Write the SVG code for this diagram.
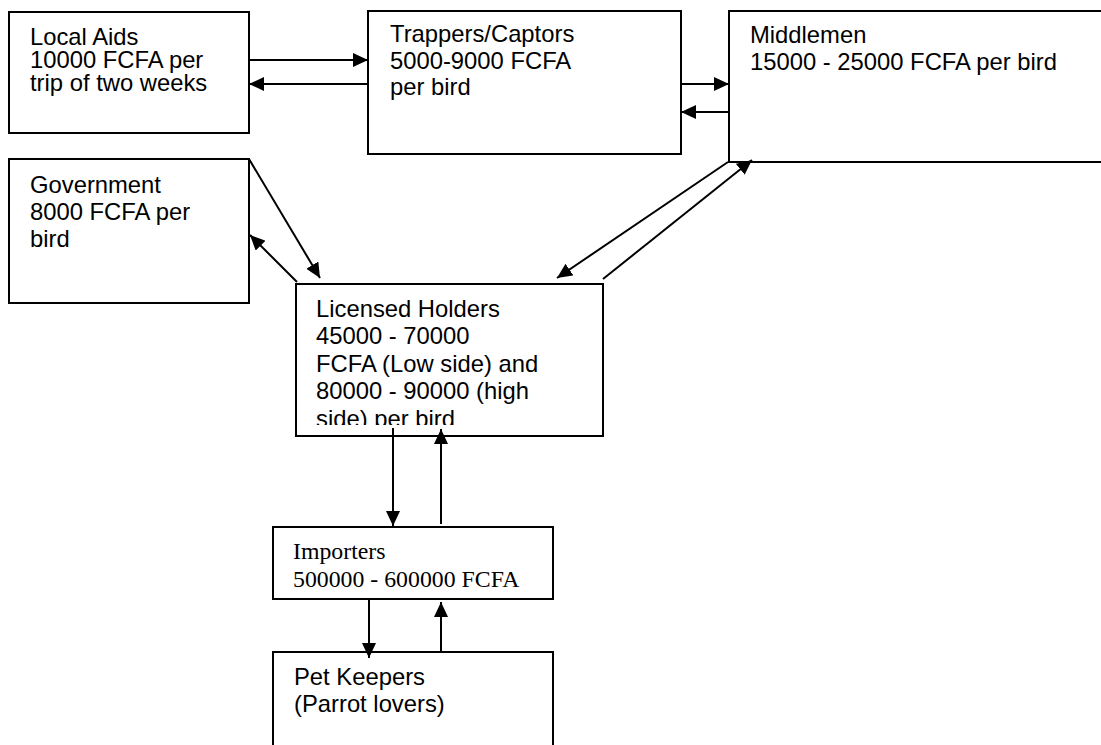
<svg xmlns="http://www.w3.org/2000/svg" width="1101" height="745" viewBox="0 0 1101 745">
  <style>
    .box { fill: #ffffff; stroke: #000000; stroke-width: 2; }
    .lbl { font-family: "Liberation Sans", Arial, sans-serif; font-size: 23.8px; fill: #000000; }
    .serif { font-family: "Liberation Serif", "Times New Roman", serif; font-size: 23.8px; fill: #000000; }
    .link { fill: none; stroke: #000000; stroke-width: 2; marker-end: url(#head); }
  </style>
  <defs>
    <marker id="head" markerUnits="userSpaceOnUse" markerWidth="16" markerHeight="14" refX="15" refY="7" orient="auto">
      <path d="M0,0 L15,7 L0,14 Z" fill="#000000"/>
    </marker>
    <clipPath id="licClip">
      <rect x="296" y="284" width="308" height="141"/>
    </clipPath>
  </defs>
  <rect width="1101" height="745" fill="#ffffff"/>

  <g id="local-aids">
    <rect class="box" x="9" y="12" width="240" height="121"/>
    <text class="lbl" x="30" y="45">Local Aids</text>
    <text class="lbl" x="30" y="68">10000 FCFA per</text>
    <text class="lbl" x="30" y="91">trip of two weeks</text>
  </g>

  <g id="trappers">
    <rect class="box" x="368" y="11" width="313" height="143"/>
    <text class="lbl" x="390" y="42">Trappers/Captors</text>
    <text class="lbl" x="390" y="69">5000-9000 FCFA</text>
    <text class="lbl" x="390" y="95">per bird</text>
  </g>

  <g id="middlemen">
    <rect class="box" x="729" y="11" width="390" height="151"/>
    <text class="lbl" x="750" y="43">Middlemen</text>
    <text class="lbl" x="750" y="70">15000 - 25000 FCFA per bird</text>
  </g>

  <g id="government">
    <rect class="box" x="9" y="159" width="240" height="144"/>
    <text class="lbl" x="30" y="193">Government</text>
    <text class="lbl" x="30" y="220">8000 FCFA per</text>
    <text class="lbl" x="30" y="247">bird</text>
  </g>

  <g id="licensed-holders">
    <rect class="box" x="296" y="284" width="307" height="152"/>
    <g clip-path="url(#licClip)">
      <text class="lbl" x="316" y="317">Licensed Holders</text>
      <text class="lbl" x="316" y="344">45000 - 70000</text>
      <text class="lbl" x="316" y="372">FCFA (Low side) and</text>
      <text class="lbl" x="316" y="399">80000 - 90000 (high</text>
      <text class="lbl" x="316" y="427">side) per bird</text>
    </g>
  </g>

  <g id="importers">
    <rect class="box" x="273" y="527" width="280" height="72"/>
    <text class="serif" x="293" y="559">Importers</text>
    <text class="serif" x="293" y="587">500000 - 600000 FCFA</text>
  </g>

  <g id="pet-keepers">
    <rect class="box" x="273" y="652" width="280" height="120"/>
    <text class="lbl" x="294" y="685">Pet Keepers</text>
    <text class="lbl" x="294" y="712">(Parrot lovers)</text>
  </g>

  <g id="connectors">
    <line class="link" x1="249" y1="60" x2="368" y2="60"/>
    <line class="link" x1="368" y1="84" x2="249" y2="84"/>
    <line class="link" x1="681" y1="84" x2="729" y2="84"/>
    <line class="link" x1="729" y1="112" x2="681" y2="112"/>
    <line class="link" x1="249" y1="159" x2="320" y2="278"/>
    <line class="link" x1="297" y1="282" x2="250" y2="235"/>
    <line class="link" x1="728" y1="162" x2="557" y2="278"/>
    <line class="link" x1="603" y1="279" x2="752" y2="160"/>
    <line class="link" x1="393" y1="428" x2="393" y2="526"/>
    <line class="link" x1="441" y1="524" x2="441" y2="429"/>
    <line class="link" x1="369" y1="599" x2="369" y2="658"/>
    <line class="link" x1="441" y1="652" x2="441" y2="602"/>
  </g>
</svg>
